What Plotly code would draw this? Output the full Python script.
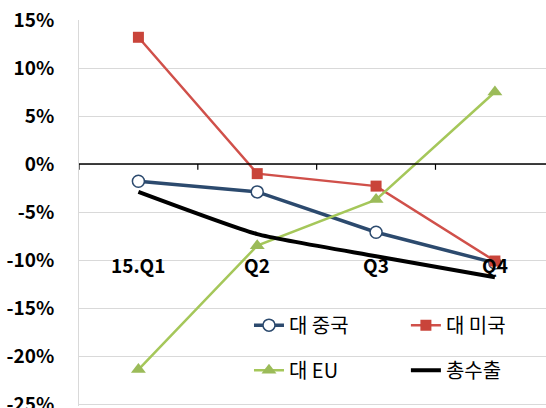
import plotly.graph_objects as go

quarters = ["15.Q1", "Q2", "Q3", "Q4"]
china = [-1.8, -2.9, -7.1, -10.3]
usa = [13.2, -1.0, -2.3, -10.1]
eu = [-21.4, -8.5, -3.7, 7.5]
total = [-2.9, -7.3, -9.6, -11.8]
y_ticks = [15, 10, 5, 0, -5, -10, -15, -20, -25]

xs = list(range(len(quarters)))
FONT = "Noto Sans CJK KR"

fig = go.Figure()
fig.add_trace(go.Scatter(
    x=xs, y=china, name="대 중국", mode="lines+markers",
    line=dict(color="#2C4A6E", width=3.5),
    marker=dict(symbol="circle", size=12, color="white",
                line=dict(color="#2C4A6E", width=1.5)),
    legend="legend", legendgroup="a"))
fig.add_trace(go.Scatter(
    x=xs, y=usa, name="대 미국", mode="lines+markers",
    line=dict(color="#D0504A", width=2.5),
    marker=dict(symbol="square", size=11, color="#C9443A"),
    legend="legend2", legendgroup="b"))
fig.add_trace(go.Scatter(
    x=xs, y=eu, name="대 EU", mode="lines+markers",
    line=dict(color="#A5C75A", width=2.5),
    marker=dict(symbol="triangle-up", size=13, color="#9BBB59"),
    legend="legend", legendgroup="c"))
fig.add_trace(go.Scatter(
    x=xs, y=total, name="총수출", mode="lines",
    line=dict(color="black", width=4, shape="spline", smoothing=0.5),
    legend="legend2", legendgroup="d"))

# category labels drawn inside the plot, below the zero axis
for i, q in enumerate(quarters):
    fig.add_annotation(x=i, y=-10.5, text=q, showarrow=False,
                       font=dict(family=FONT, size=19, color="black",
                                 weight="bold"),
                       xanchor="center", yanchor="middle")

# zero axis with tick marks between categories
fig.add_shape(type="line", xref="x", yref="y", x0=-0.5, x1=3.6, y0=0, y1=0,
              line=dict(color="black", width=1.5), layer="above")
for b in [-0.5, 0.5, 1.5, 2.5]:
    fig.add_shape(type="line", xref="x", yref="y", x0=b, x1=b, y0=0, y1=-0.6,
                  line=dict(color="black", width=1.2), layer="above")

legend_common = dict(
    orientation="v", bgcolor="rgba(0,0,0,0)", borderwidth=0,
    font=dict(family=FONT, size=20, color="black"),
    tracegroupgap=16, xanchor="left", yanchor="top", itemwidth=30)

fig.update_layout(
    width=546, height=408,
    margin=dict(l=79, r=0, t=20, b=2),
    paper_bgcolor="white", plot_bgcolor="white",
    showlegend=True,
    legend=dict(x=0.364, y=0.26, **legend_common),
    legend2=dict(x=0.70, y=0.26, **legend_common),
    xaxis=dict(range=[-0.5, 3.43], showticklabels=False, showgrid=False,
               zeroline=False, showline=False, ticks=""),
    yaxis=dict(range=[-25.2, 15], tickvals=y_ticks,
               ticktext=[f"{v}%" for v in y_ticks],
               tickfont=dict(family=FONT, size=19, color="black",
                             weight="bold"),
               showgrid=True, gridcolor="#D9D9D9", gridwidth=1,
               zeroline=False, showline=True, linecolor="#D9D9D9",
               linewidth=1, ticks="", ticklabelstandoff=20,
               ticklabeloverflow="allow", automargin=False),
)

fig.write_html("out.html")
